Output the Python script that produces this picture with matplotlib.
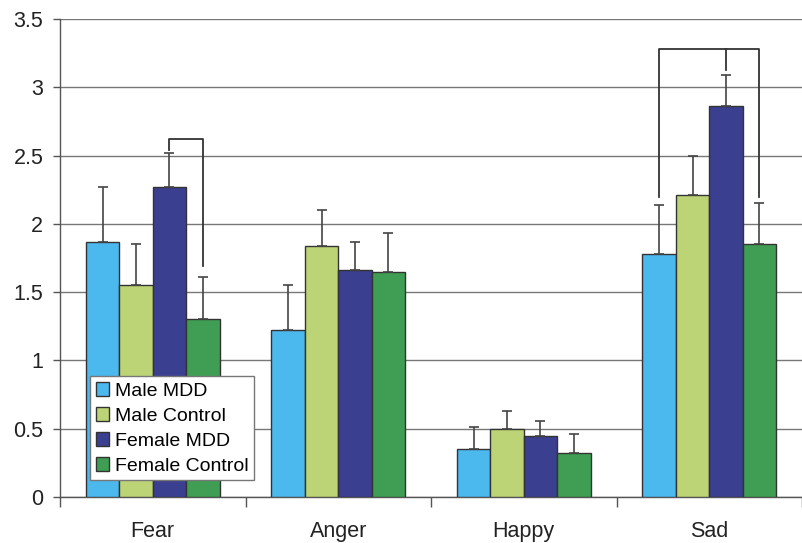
import numpy as np
import matplotlib
matplotlib.use('Agg')
import matplotlib.pyplot as plt

plt.rcParams['font.family'] = ['Liberation Sans', 'DejaVu Sans']

categories = ['Fear', 'Anger', 'Happy', 'Sad']
groups = ['Male MDD', 'Male Control', 'Female MDD', 'Female Control']
colors = ['#4BB8EE', '#BDD476', '#3A3F8F', '#3F9E53']

# середні значення
means = {
    'Male MDD': [1.87, 1.22, 0.35, 1.78],
    'Male Control': [1.55, 1.84, 0.50, 2.21],
    'Female MDD': [2.27, 1.66, 0.45, 2.86],
    'Female Control': [1.30, 1.65, 0.32, 1.85],
}
# верхні межі похибки (тільки вгору)
errors = {
    'Male MDD': [0.40, 0.33, 0.16, 0.36],
    'Male Control': [0.30, 0.26, 0.13, 0.29],
    'Female MDD': [0.25, 0.21, 0.11, 0.23],
    'Female Control': [0.31, 0.28, 0.14, 0.30],
}

# дужки значущості: (категорія, ліва група, права група, верх, низ лівої ноги, низ правої ноги)
brackets = [
    (0, 2, 3, 2.62, 2.54, 1.69),
    (3, 0, 3, 3.28, 2.20, 2.20),
]
# середній "зубець" для Sad до Female MDD
mid_tick = (3, 2, 3.28, 3.13)

fig = plt.figure(figsize=(8.02, 5.43), dpi=100)
ax = fig.add_axes([60 / 802, 46 / 543, 742 / 802, 478 / 543])

x = np.arange(len(categories))
width = 0.18
offsets = (np.arange(4) - 1.5) * width

for i, g in enumerate(groups):
    err = np.array(errors[g])
    ax.bar(x + offsets[i], means[g], width, color=colors[i], edgecolor='#333333',
           linewidth=1, label=g, zorder=3,
           yerr=[np.zeros_like(err), err], capsize=3.5,
           error_kw=dict(ecolor='#444444', elinewidth=1.2, capthick=1.2, zorder=4))

for cat, gl, gr, top, bl, br in brackets:
    xl = cat + offsets[gl]
    xr = cat + offsets[gr]
    ax.plot([xl, xl, xr, xr], [bl, top, top, br], color='#333333', lw=1.3, zorder=5)

cat, g, top, bottom = mid_tick
xm = cat + offsets[g]
ax.plot([xm, xm], [top, bottom], color='#333333', lw=1.3, zorder=5)

ax.set_ylim(0, 3.5)
ax.set_xlim(-0.5, 3.452)
ax.set_yticks(np.arange(0, 3.51, 0.5))
ax.set_yticklabels(['0', '0.5', '1', '1.5', '2', '2.5', '3', '3.5'])
ax.yaxis.grid(True, color='#777777', linewidth=1, zorder=0)
ax.set_axisbelow(True)

ax.set_xticks(x)
ax.set_xticklabels(categories)
ax.set_xticks(np.arange(-0.5, 4, 1), minor=True)
ax.tick_params(axis='x', which='major', length=0, pad=17, labelsize=15.5, colors='#222222')
ax.tick_params(axis='x', which='minor', length=7, width=1, color='#555555')
ax.tick_params(axis='y', length=5, width=1, pad=7, labelsize=15.5, color='#555555',
               labelcolor='#222222')

for s in ['top', 'right']:
    ax.spines[s].set_visible(False)
for s in ['left', 'bottom']:
    ax.spines[s].set_color('#555555')
    ax.spines[s].set_linewidth(1)

leg = ax.legend(loc='upper left', bbox_to_anchor=(0.040, 0.253), fontsize=14,
                frameon=True, fancybox=False, edgecolor='#777777', framealpha=1,
                handlelength=0.7, handleheight=0.7, handletextpad=0.3,
                labelspacing=0.38, borderpad=0.3, borderaxespad=0)
leg.get_frame().set_linewidth(1)
leg.set_zorder(6)

fig.savefig('out.png', dpi=100)
